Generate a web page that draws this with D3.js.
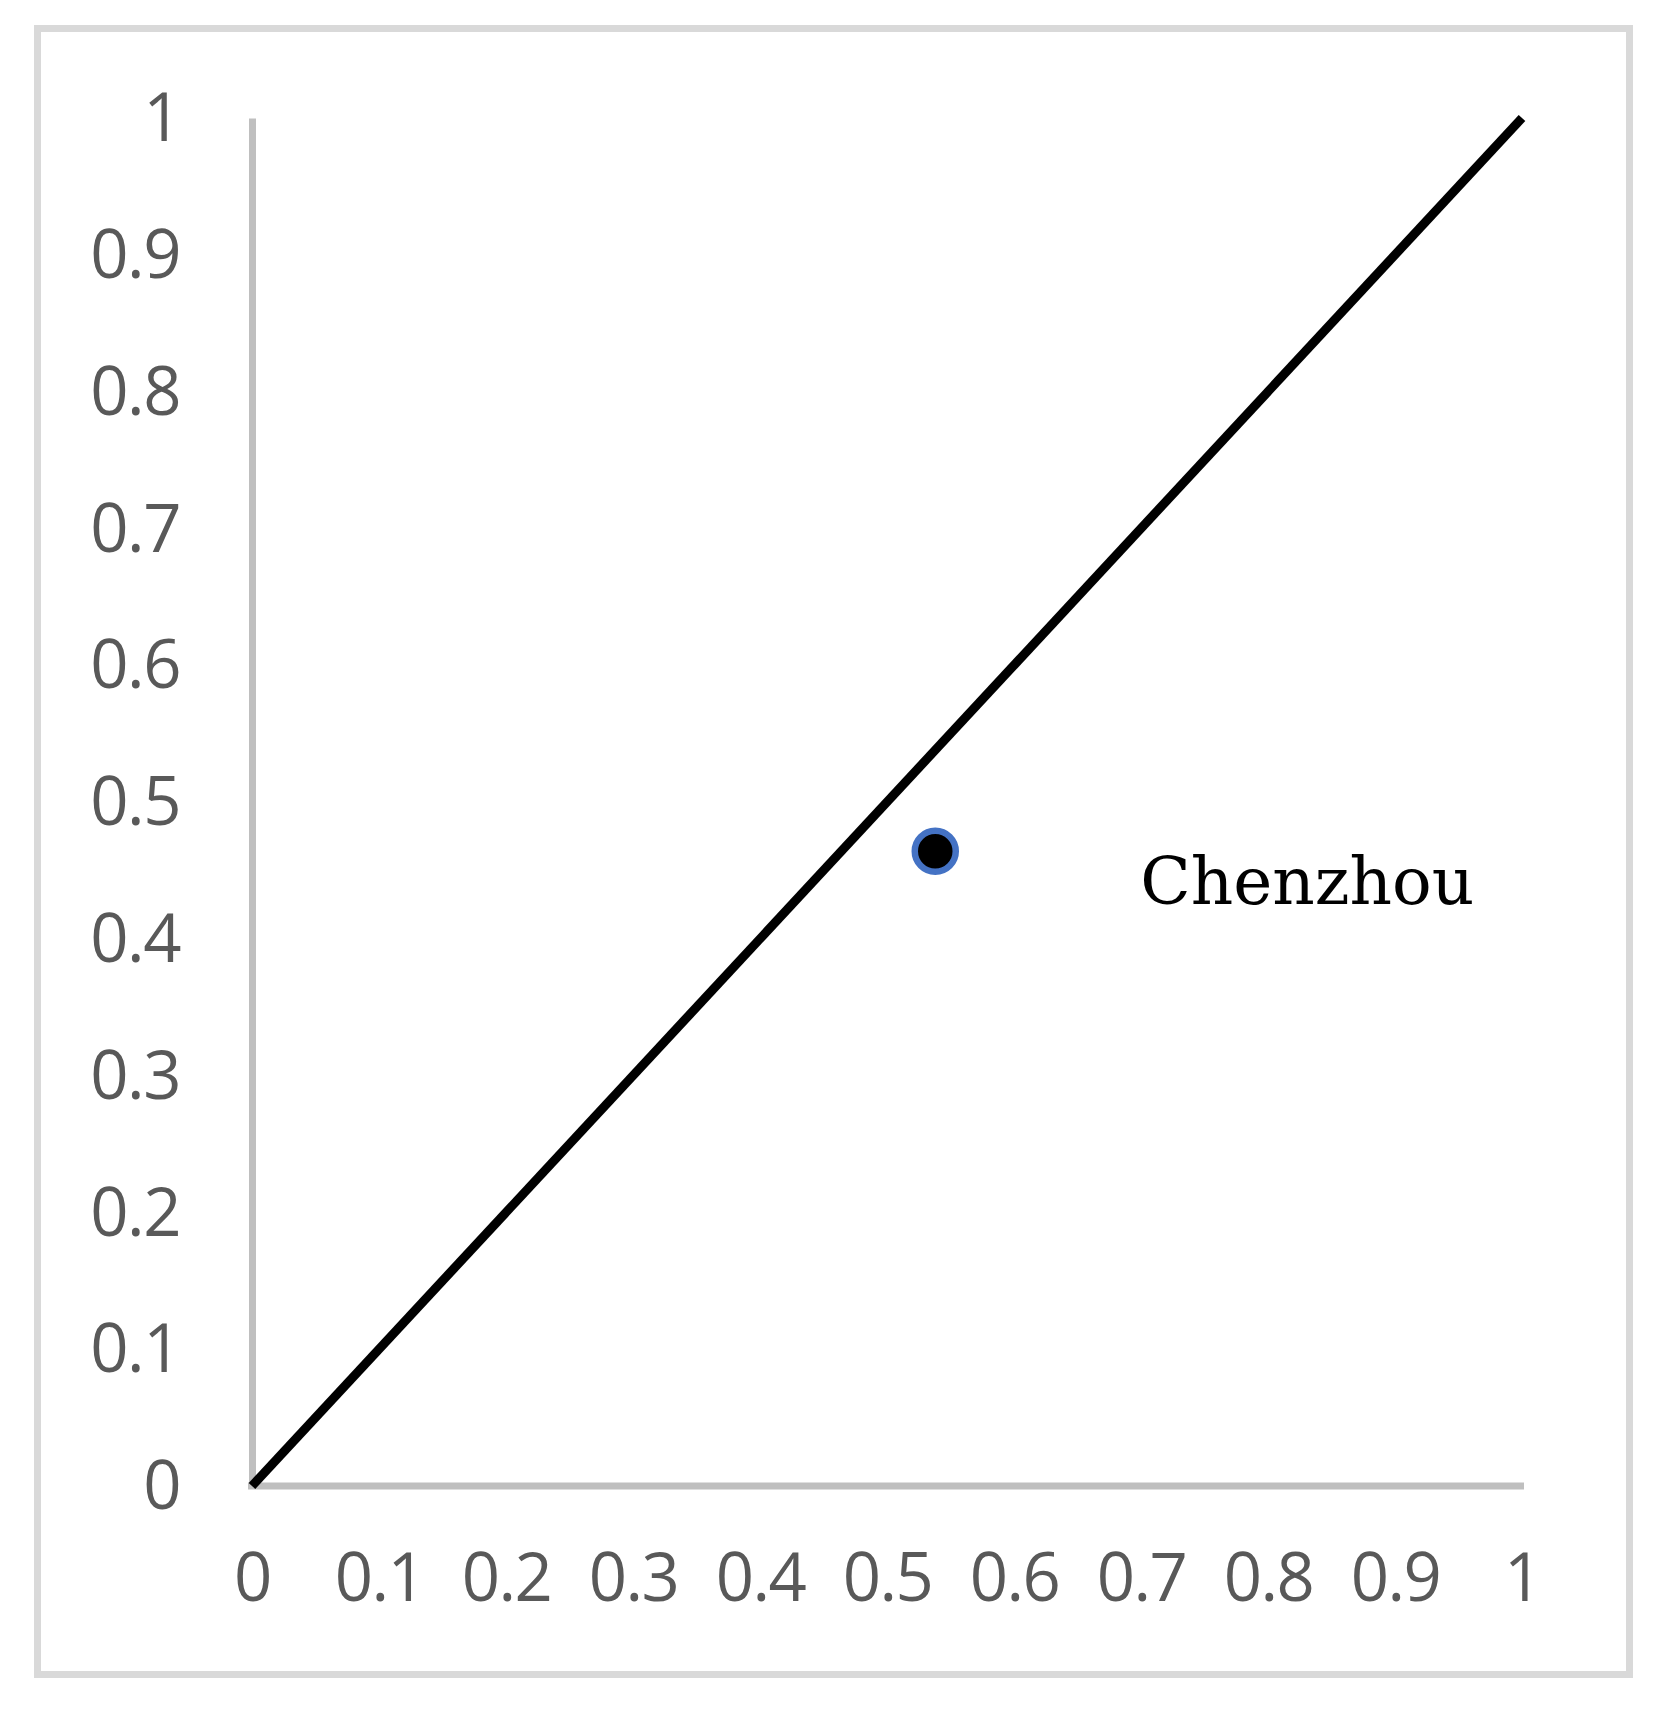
<!DOCTYPE html>
<html>
<head>
<meta charset="utf-8">
<script src="https://cdn.jsdelivr.net/npm/d3@7"></script>
<style>
  html, body { margin: 0; padding: 0; background: #fff; }
  svg { display: block; }
</style>
</head>
<body>
<svg id="chart" width="1668" height="1712"></svg>
<script>
// ---- data ----
const xTicks = [0, 0.1, 0.2, 0.3, 0.4, 0.5, 0.6, 0.7, 0.8, 0.9, 1];
const yTicks = [0, 0.1, 0.2, 0.3, 0.4, 0.5, 0.6, 0.7, 0.8, 0.9, 1];
const refLineX = [0, 1];
const refLineY = [0, 1];
const pointNames = ["Chenzhou"];
const pointX = [0.538];
const pointY = [0.464];

// ---- layout ----
const svg = d3.select("#chart");
const x = d3.scaleLinear().domain([0, 1]).range([252, 1522]);
const y = d3.scaleLinear().domain([0, 1]).range([1486, 118]);

// outer frame
svg.append("rect")
  .attr("x", 37.5).attr("y", 28.5)
  .attr("width", 1592).attr("height", 1646)
  .attr("fill", "#fff")
  .attr("stroke", "#d9d9d9").attr("stroke-width", 7);

const fmt = d => (d === 0 ? "0" : d === 1 ? "1" : d3.format(".1f")(d));
const tickFont = "'Open Sans', sans-serif";

// y axis
const yAxis = svg.append("g")
  .attr("transform", `translate(${x(0)},0)`)
  .call(d3.axisLeft(y).tickValues(yTicks).tickSize(0).tickSizeOuter(0).tickPadding(72).tickFormat(fmt));
yAxis.select(".domain").attr("stroke", "#bfbfbf").attr("stroke-width", 7);
yAxis.selectAll("text")
  .attr("font-family", tickFont)
  .attr("font-size", 67)
  .attr("letter-spacing", -1.5)
  .attr("fill", "#595959")
  .attr("dy", "0.34em");

// x axis
const xAxis = svg.append("g")
  .attr("transform", `translate(0,${y(0)})`)
  .call(d3.axisBottom(x).tickValues(xTicks).tickSize(0).tickSizeOuter(0).tickPadding(92).tickFormat(fmt));
xAxis.select(".domain").attr("stroke", "#bfbfbf").attr("stroke-width", 7)
  .attr("d", `M${x(0) - 4},0H${x(1) + 2}`);
xAxis.selectAll("text")
  .attr("font-family", tickFont)
  .attr("font-size", 67)
  .attr("letter-spacing", -1.5)
  .attr("fill", "#595959")
  .attr("dy", "0.34em");

// diagonal reference line
const line = d3.line().x(d => x(d[0])).y(d => y(d[1]));
svg.append("path")
  .datum(refLineX.map((v, i) => [v, refLineY[i]]))
  .attr("d", line)
  .attr("fill", "none")
  .attr("stroke", "#000")
  .attr("stroke-width", 9);

// point
const pts = pointNames.map((n, i) => ({ name: n, x: pointX[i], y: pointY[i] }));
svg.selectAll("circle.pt").data(pts).join("circle")
  .attr("class", "pt")
  .attr("cx", d => x(d.x)).attr("cy", d => y(d.y))
  .attr("r", 20.5)
  .attr("fill", "#000")
  .attr("stroke", "#4472c4")
  .attr("stroke-width", 6.5);

svg.selectAll("text.lbl").data(pts).join("text")
  .attr("class", "lbl")
  .attr("x", d => x(d.x) + 205)
  .attr("y", d => y(d.y) + 53)
  .attr("font-family", "'DejaVu Serif', serif")
  .attr("font-size", 66)
  .attr("fill", "#000")
  .text(d => d.name);
</script>
</body>
</html>
